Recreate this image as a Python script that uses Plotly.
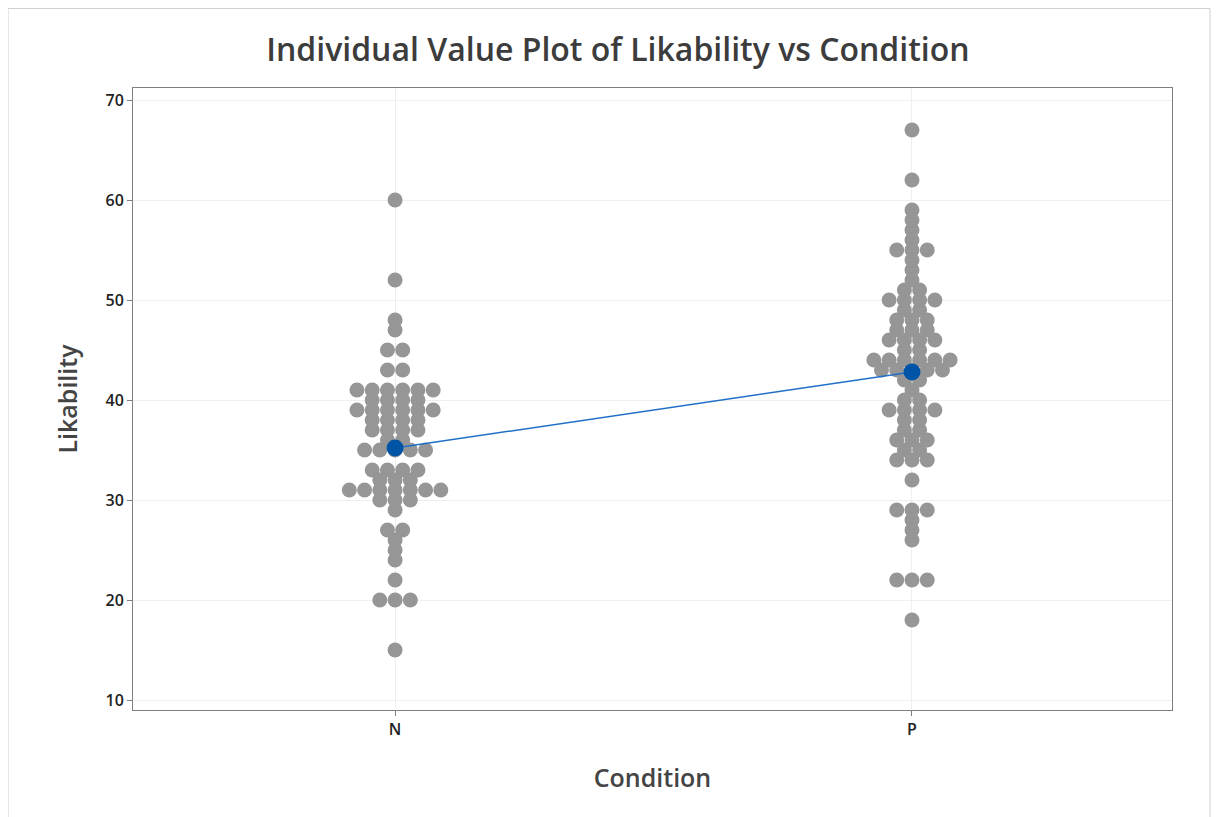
import plotly.graph_objects as go

categories = ["N", "P"]

n_values = [60, 52, 48, 47, 45, 43, 41, 40, 39, 38, 37, 36, 35, 33, 32, 31, 30, 29, 27, 26, 25, 24, 22, 20, 15]
n_counts = [1, 1, 1, 1, 2, 2, 6, 4, 6, 4, 4, 2, 5, 4, 3, 7, 3, 1, 2, 1, 1, 1, 1, 3, 1]

p_values = [67, 62, 59, 58, 57, 56, 55, 54, 53, 52, 51, 50, 49, 48, 47, 46, 45, 44, 43, 42, 41, 40,
            39, 38, 37, 36, 35, 34, 32, 29, 28, 27, 26, 22, 18]
p_counts = [1, 1, 1, 1, 1, 1, 3, 1, 1, 1, 2, 4, 2, 3, 3, 4, 2, 6, 5, 2, 1, 2,
            4, 2, 2, 3, 2, 3, 1, 3, 1, 1, 1, 3, 1]

means = [35.2, 42.8]

y_ticks = [10, 20, 30, 40, 50, 60, 70]

spacing = 0.0295


def stack(pos, values, counts):
    xs, ys = [], []
    for v, c in zip(values, counts):
        for i in range(c):
            xs.append(pos + (i - (c - 1) / 2) * spacing)
            ys.append(v)
    return xs, ys


W, H = 1203, 812
L, T = 125, 80
PW, PH = 1039, 622

fig = go.Figure()
for pos, vals, cnts in [(0, n_values, n_counts), (1, p_values, p_counts)]:
    xs, ys = stack(pos, vals, cnts)
    fig.add_trace(go.Scatter(
        x=xs, y=ys, mode="markers",
        marker=dict(color="#969696", size=15, line=dict(width=0)),
        showlegend=False, hoverinfo="y"))

fig.add_trace(go.Scatter(
    x=[0, 1], y=means, mode="lines+markers",
    line=dict(color="#1f6fc6", width=1.5),
    marker=dict(color="#0054a6", size=17),
    showlegend=False))

fig.update_layout(
    width=W, height=H,
    margin=dict(l=L, r=W - L - PW, t=T, b=H - T - PH),
    paper_bgcolor="white", plot_bgcolor="white",
    font=dict(family="Open Sans, Noto Sans, sans-serif", color="#333333"),
    title=dict(text="Individual Value Plot of Likability vs Condition",
               x=0.507, xanchor="center", y=1 - 42 / H, yanchor="middle",
               font=dict(size=32, color="#3c3c3c", weight=600,
                         family="Open Sans, Noto Sans, sans-serif")),
    xaxis=dict(
        range=[-0.507, 1.503],
        tickmode="array", tickvals=[0, 1], ticktext=categories,
        showgrid=True, gridcolor="#efefef", gridwidth=1,
        zeroline=False,
        showline=True, linecolor="#7f7f7f", linewidth=1, mirror=True,
        ticks="outside", ticklen=5, tickcolor="#7f7f7f",
        tickfont=dict(size=16, color="#222222", weight=600),
        title=dict(text="Condition", font=dict(size=25, color="#444444", weight=600), standoff=30),
    ),
    yaxis=dict(
        range=[9.0, 71.2],
        tickmode="array", tickvals=y_ticks,
        showgrid=True, gridcolor="#efefef", gridwidth=1,
        zeroline=False,
        showline=True, linecolor="#7f7f7f", linewidth=1, mirror=True,
        ticks="outside", ticklen=5, tickcolor="#7f7f7f",
        tickfont=dict(size=16, color="#222222", weight=600),
        title=dict(text="Likability", font=dict(size=25, color="#444444", weight=600), standoff=20),
    ),
    shapes=[dict(type="rect", xref="paper", yref="paper",
                 x0=-L / PW, x1=(W - L - 1) / PW, y0=-(H - T - PH) / PH, y1=1 + (T - 0.5) / PH,
                 line=dict(color="#d0d0d0", width=1), fillcolor="rgba(0,0,0,0)", layer="below")],
)

fig.write_html("out.html")
